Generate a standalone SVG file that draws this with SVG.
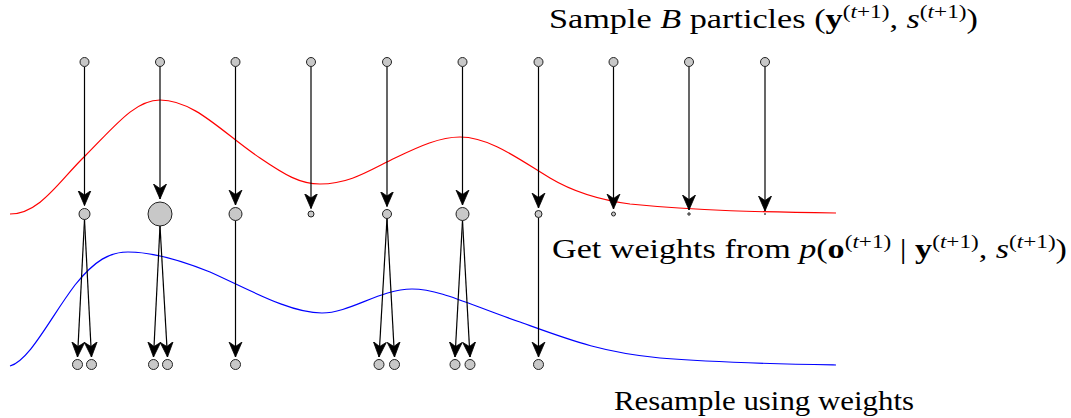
<svg xmlns="http://www.w3.org/2000/svg" width="1071" height="418" viewBox="0 0 1071 418">
<style>
.p{fill:#c8c8c8;stroke:#222;stroke-width:1}
.a{stroke:#000;stroke-width:1.2;fill:none;marker-end:url(#ah)}
.t{font-family:"Liberation Serif","Times New Roman",serif;font-size:26.5px;fill:#000}
.i{font-style:italic}
.b{font-weight:bold}
.s{font-size:18px}
</style>
<defs>
<marker id="ah" markerUnits="userSpaceOnUse" markerWidth="18" markerHeight="16" viewBox="0 0 18 16" refX="15" refY="8" orient="auto">
<path d="M0,1.5 L15,8 L0,14.5 L4.5,8 Z" fill="#000" stroke="#000" stroke-width="0.8" stroke-linejoin="miter"/>
</marker>
</defs>
<g id="curves" fill="none" stroke-width="1.2">
<path stroke="#ff0000" d="M10,214 C40,214 60,180 85,156 C115,126 135,100 160,100 C195,100 225,135 260,158 C285,175 300,184 320,184 C350,184 370,170 395,158 C420,146 440,137 460,137 C490,137 520,160 550,178 C575,193 600,200 630,204 C700,211 760,212 836,213"/>
<path stroke="#0000ff" d="M10,366 C30,360 50,318 75,285 C95,260 110,252 128,252 C150,252 180,260 210,272 C250,290 290,313 322,313 C350,313 380,289 412,289 C440,289 470,305 520,322 C570,340 600,352 660,358 C720,363 780,364 836,365"/>
</g>
<g id="connectors">
<line class="a" x1="84.5" y1="67" x2="84.5" y2="205.5"/>
<line class="a" x1="160" y1="67" x2="160" y2="199"/>
<line class="a" x1="235.5" y1="67" x2="235.5" y2="205"/>
<line class="a" x1="311" y1="67" x2="311" y2="208.5"/>
<line class="a" x1="387" y1="67" x2="387" y2="206.5"/>
<line class="a" x1="462.5" y1="67" x2="462.5" y2="205"/>
<line class="a" x1="538.5" y1="67" x2="538.5" y2="208"/>
<line class="a" x1="613.5" y1="67" x2="613.5" y2="209"/>
<line class="a" x1="689" y1="67" x2="689" y2="210"/>
<line class="a" x1="765" y1="67" x2="765" y2="211"/>
<line class="a" x1="84.5" y1="219.5" x2="77.5" y2="357"/>
<line class="a" x1="84.5" y1="219.5" x2="91.5" y2="357"/>
<line class="a" x1="160" y1="226" x2="153.5" y2="357"/>
<line class="a" x1="160" y1="226" x2="167.5" y2="357"/>
<line class="a" x1="235.5" y1="220.5" x2="235.5" y2="357"/>
<line class="a" x1="387" y1="218.5" x2="379" y2="357"/>
<line class="a" x1="387" y1="218.5" x2="394.5" y2="357"/>
<line class="a" x1="462.5" y1="220.5" x2="455" y2="357"/>
<line class="a" x1="462.5" y1="220.5" x2="470" y2="357"/>
<line class="a" x1="538.5" y1="217.5" x2="538.5" y2="357"/>
</g>
<g id="top-particles">
<circle class="p" cx="84.5" cy="62" r="4.5"/>
<circle class="p" cx="160" cy="62" r="4.5"/>
<circle class="p" cx="235.5" cy="62" r="4.5"/>
<circle class="p" cx="311" cy="62" r="4.5"/>
<circle class="p" cx="387" cy="62" r="4.5"/>
<circle class="p" cx="462.5" cy="62" r="4.5"/>
<circle class="p" cx="538.5" cy="62" r="4.5"/>
<circle class="p" cx="613.5" cy="62" r="4.5"/>
<circle class="p" cx="689" cy="62" r="4.5"/>
<circle class="p" cx="765" cy="62" r="4.5"/>
</g>
<g id="weighted-particles">
<circle class="p" cx="84.5" cy="214" r="5.5"/>
<circle class="p" cx="160" cy="214" r="12"/>
<circle class="p" cx="235.5" cy="214" r="6.5"/>
<circle class="p" cx="311" cy="214" r="3"/>
<circle class="p" cx="387" cy="214" r="4.5"/>
<circle class="p" cx="462.5" cy="214" r="6.5"/>
<circle class="p" cx="538.5" cy="214" r="3.5"/>
<circle class="p" cx="613.5" cy="214" r="2"/>
<circle class="p" cx="689" cy="214" r="1.2"/>
<circle class="p" cx="765" cy="214" r="0.5"/>
</g>
<g id="resampled-particles">
<circle class="p" cx="77.5" cy="364.5" r="5"/>
<circle class="p" cx="91.5" cy="364.5" r="5"/>
<circle class="p" cx="153.5" cy="364.5" r="5"/>
<circle class="p" cx="167.5" cy="364.5" r="5"/>
<circle class="p" cx="235.5" cy="364.5" r="5"/>
<circle class="p" cx="379" cy="364.5" r="5"/>
<circle class="p" cx="394.5" cy="364.5" r="5"/>
<circle class="p" cx="455" cy="364.5" r="5"/>
<circle class="p" cx="470" cy="364.5" r="5"/>
<circle class="p" cx="538.5" cy="364.5" r="5"/>
</g>
<g id="labels">
<text class="t" x="549" y="28" textLength="429" lengthAdjust="spacingAndGlyphs">Sample <tspan class="i">B</tspan> particles (<tspan class="b">y</tspan><tspan class="s" dy="-10">(<tspan class="i">t</tspan>+1)</tspan><tspan dy="10">, </tspan><tspan class="i">s</tspan><tspan class="s" dy="-10">(<tspan class="i">t</tspan>+1)</tspan><tspan dy="10">)</tspan></text>
<text class="t" x="552" y="258" textLength="515" lengthAdjust="spacingAndGlyphs">Get weights from <tspan class="i">p</tspan>(<tspan class="b">o</tspan><tspan class="s" dy="-10">(<tspan class="i">t</tspan>+1)</tspan><tspan dy="10"> | </tspan><tspan class="b">y</tspan><tspan class="s" dy="-10">(<tspan class="i">t</tspan>+1)</tspan><tspan dy="10">, </tspan><tspan class="i">s</tspan><tspan class="s" dy="-10">(<tspan class="i">t</tspan>+1)</tspan><tspan dy="10">)</tspan></text>
<text class="t" x="614" y="410" textLength="300" lengthAdjust="spacingAndGlyphs">Resample using weights</text>
</g>
</svg>
